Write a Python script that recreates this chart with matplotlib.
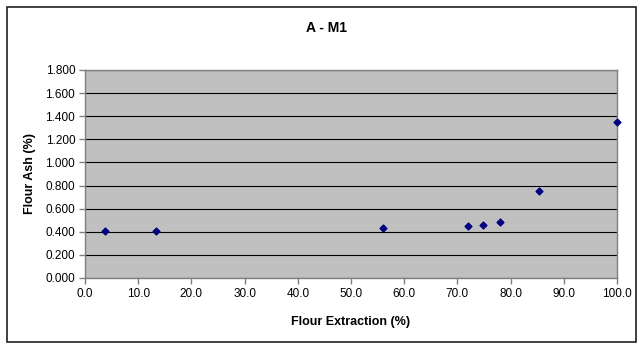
import matplotlib
matplotlib.use("Agg")
import matplotlib.pyplot as plt
from matplotlib.patches import Rectangle
from matplotlib.ticker import FuncFormatter, MultipleLocator

plt.rcParams['font.family'] = ['Liberation Sans', 'DejaVu Sans']

extraction = [3.7, 13.4, 56.0, 72.0, 74.9, 78.1, 85.3, 100.0]
ash = [0.406, 0.406, 0.432, 0.449, 0.458, 0.487, 0.755, 1.351]

fig = plt.figure(figsize=(6.37, 3.44), dpi=100)
fig.patch.set_facecolor('white')
fig.patches.append(Rectangle((7/637, 2/344), 629/637, 335/344, transform=fig.transFigure,
                             fill=False, edgecolor='#202020', linewidth=1.2))

ax = fig.add_axes([85/637, 1-278/344, 532/637, 208/344])
ax.set_facecolor('#C0C0C0')
ax.scatter(extraction, ash, marker='D', s=12, color='#000080', zorder=3, clip_on=False)
ax.set_xlim(0, 100)
ax.set_ylim(0, 1.8)
ax.xaxis.set_major_locator(MultipleLocator(10))
ax.yaxis.set_major_locator(MultipleLocator(0.2))
ax.xaxis.set_major_formatter(FuncFormatter(lambda v, p: f"{v:.1f}"))
ax.yaxis.set_major_formatter(FuncFormatter(lambda v, p: f"{v:.3f}"))
ax.yaxis.grid(True, color='black', linewidth=0.8)
ax.set_axisbelow(True)
for s in ax.spines.values():
    s.set_color('#808080')
    s.set_linewidth(1.0)
ax.tick_params(direction='out', length=4, width=1, color='#808080', labelsize=8.5, pad=3)
ax.set_xlabel('Flour Extraction (%)', fontsize=9, fontweight='bold', labelpad=12)
ax.set_ylabel('Flour Ash (%)', fontsize=9, fontweight='bold', labelpad=7)
fig.text(326/637, 1-28/344, 'A - M1', ha='center', va='center', fontsize=10, fontweight='bold')

fig.savefig('out.png', dpi=100)
